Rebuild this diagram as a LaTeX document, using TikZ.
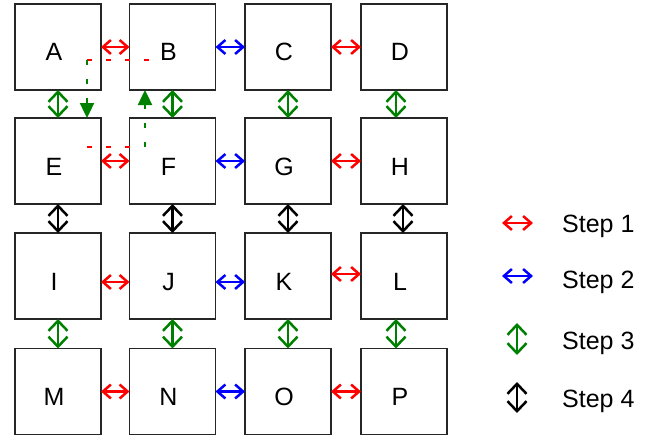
\documentclass[tikz,border=0pt]{standalone}
\usepackage{fontspec}
\setmainfont{Liberation Sans}
\usetikzlibrary{arrows.meta}
\definecolor{dgreen}{RGB}{0,128,0}
\definecolor{myred}{RGB}{255,0,0}
\definecolor{myblue}{RGB}{0,0,255}
\newcommand\mkcell[4]{\node[cellbox] (#1) at (#2,#3) {}; \node[lbl] (t#1) at (#2-4,#3+14) {#4};}
\begin{document}
\begin{tikzpicture}[x=1pt,y=-1pt,
  cellbox/.style={draw=black!85,line width=1.4pt,minimum width=86pt,minimum height=86pt,inner sep=0pt,outer sep=0pt},
  lbl/.style={anchor=base,inner sep=0pt,font=\fontsize{25}{30}\selectfont},
  legtext/.style={anchor=base west,inner sep=0pt,font=\fontsize{25}{30}\selectfont},
  harr/.style={line width=2.5pt,{Straight Barb[length=8pt,width=14pt]}-{Straight Barb[length=8pt,width=14pt]}},
  varr/.style={line width=2.5pt,{Straight Barb[length=10pt,width=19pt]}-{Straight Barb[length=10pt,width=19pt]}},
  dashr/.style={myred,line width=2.4pt,dash pattern=on 5pt off 14pt},
  dashg/.style={dgreen,line width=2.4pt,dash pattern=on 5pt off 14pt,-{Triangle[length=15pt,width=14pt]}}
]
\useasboundingbox (0,0) rectangle (664,436);
% cells
\mkcell{A}{58}{47}{A}
\mkcell{B}{172.5}{47}{B}
\mkcell{C}{288}{47}{C}
\mkcell{D}{404}{47}{D}
\mkcell{E}{58}{161}{E}
\mkcell{F}{172.5}{161}{F}
\mkcell{G}{288}{161}{G}
\mkcell{H}{404}{161}{H}
\mkcell{I}{58}{276}{I}
\mkcell{J}{172.5}{276}{J}
\mkcell{K}{288}{276}{K}
\mkcell{L}{404}{276}{L}
\mkcell{M}{58}{391.5}{M}
\mkcell{N}{172.5}{391.5}{N}
\mkcell{O}{288}{391.5}{O}
\mkcell{P}{404}{391.5}{P}
% horizontal
\draw[harr,myred] (A.east) -- (B.west);
\draw[harr,myblue] (B.east) -- (C.west);
\draw[harr,myred] (C.east) -- (D.west);
\draw[harr,myred] (E.east) -- (F.west);
\draw[harr,myblue] (F.east) -- (G.west);
\draw[harr,myred] (G.east) -- (H.west);
\draw[harr,myred] ([yshift=-6pt]I.east) -- ([yshift=-6pt]J.west);
\draw[harr,myblue] ([yshift=-6pt]J.east) -- ([yshift=-6pt]K.west);
\draw[harr,myred] ([yshift=2pt]K.east) -- ([yshift=2pt]L.west);
\draw[harr,myred] (M.east) -- (N.west);
\draw[harr,myblue] (N.east) -- (O.west);
\draw[harr,myred] (O.east) -- (P.west);
% vertical
\draw[varr,dgreen] (A.south) -- (E.north);
\draw[varr,dgreen] (B.south) -- (F.north);
\draw[varr,dgreen] (C.south) -- (G.north);
\draw[varr,dgreen] ([xshift=-8pt]D.south) -- ([xshift=-8pt]H.north);
\draw[varr,black] (E.south) -- (I.north);
\draw[varr,black] (F.south) -- (J.north);
\draw[varr,black] (G.south) -- (K.north);
\draw[varr,black] ([xshift=-1pt]H.south) -- ([xshift=-1pt]L.north);
\draw[varr,dgreen] (I.south) -- (M.north);
\draw[varr,dgreen] (J.south) -- (N.north);
\draw[varr,dgreen] (K.south) -- (O.north);
\draw[varr,dgreen] ([xshift=-8pt]L.south) -- ([xshift=-8pt]P.north);
% dashed paths
\coordinate (d1) at (87,60);
\coordinate (d2) at (150,60);
\coordinate (d3) at (87,147);
\coordinate (d4) at (145,147);
\draw[dashr] (d1) -- (d2);
\draw[dashg] (d1) -- (d1 |- E.north);
\draw[dashr] (d3) -- (d3 -| F.west);
\draw[dashg] (d4) -- (d4 |- B.south);
% legend
\coordinate (l1a) at (502,223); \coordinate (l1b) at (533,223);
\coordinate (l2a) at (502,276); \coordinate (l2b) at (533,276);
\coordinate (l3a) at (517,323); \coordinate (l3b) at (517,355);
\coordinate (l4a) at (517,382); \coordinate (l4b) at (517,413);
\draw[harr,myred] (l1a) -- (l1b);
\draw[harr,myblue] (l2a) -- (l2b);
\draw[varr,dgreen] (l3a) -- (l3b);
\draw[varr,black] (l4a) -- (l4b);
\node[legtext] (s1) at (562,232) {Step 1};
\node[legtext] (s2) at (562,288) {Step 2};
\node[legtext] (s3) at (562,349) {Step 3};
\node[legtext] (s4) at (562,407) {Step 4};
\end{tikzpicture}
\end{document}
